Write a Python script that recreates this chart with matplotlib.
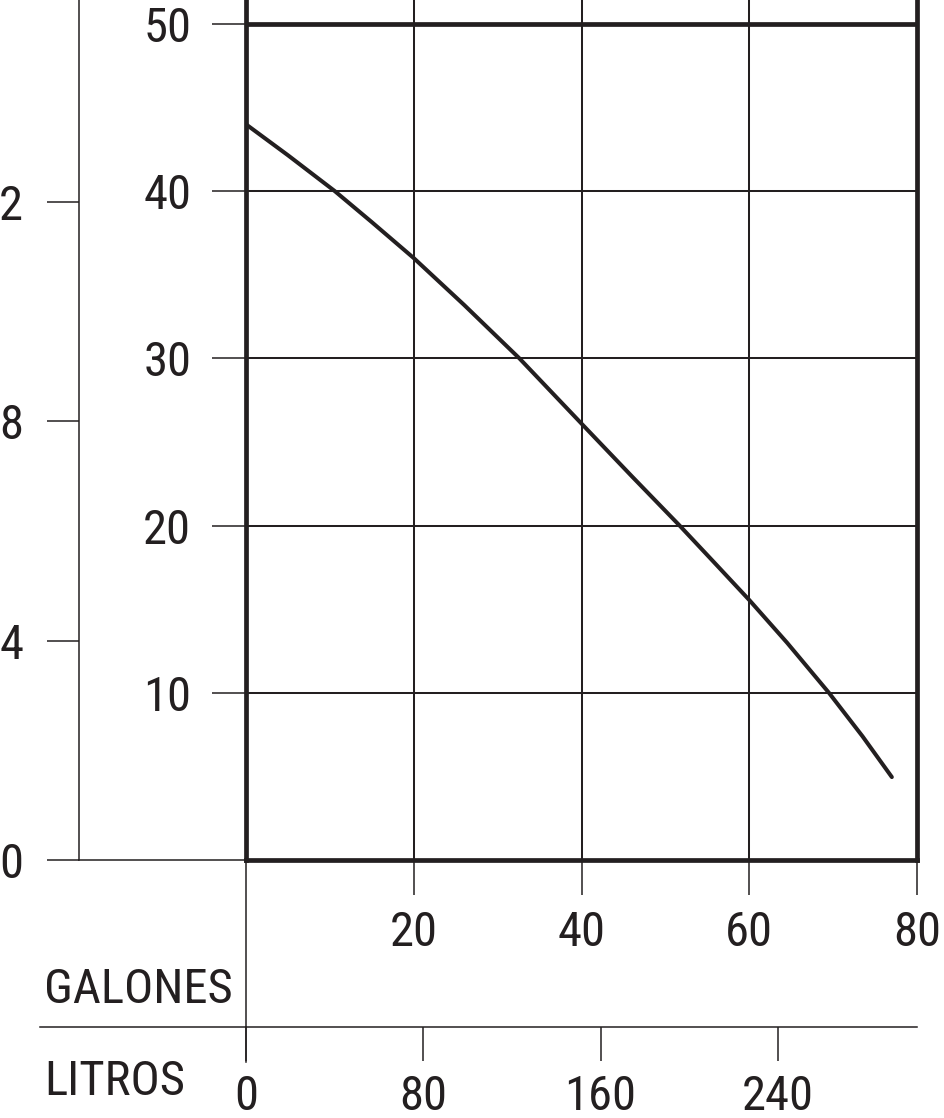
import numpy as np
import matplotlib.pyplot as plt

plt.rcParams['font.family'] = ['Roboto Condensed', 'Archivo Narrow', 'DejaVu Sans']

# pump curve: flow (gallons/min) vs head (feet)
gallons = [0, 5, 10.6, 15, 20, 26, 32.6, 40, 46, 51.7, 56, 60, 64.5, 69.5, 73.5, 77]
feet = [44.0, 42.15, 40.0, 38.15, 36.0, 33.2, 30.0, 26.1, 22.95, 20.0, 17.7, 15.55, 13.0, 10.0, 7.4, 4.96]

gal_ticks = [20, 40, 60, 80]
feet_ticks = [10, 20, 30, 40, 50]
meter_ticks = [0, 4, 8, 12]
litre_ticks = [0, 80, 160, 240]

ink = '#231f20'
W, H = 945, 1118
FS = 35

fig = plt.figure(figsize=(W / 100, H / 100), dpi=100)
ax = fig.add_axes([246 / W, 1 - 860 / H, 671 / W, 860 / H])
ax.set_xlim(0, 80)
ax.set_ylim(0, 860 / 16.72)

ax.plot(gallons, feet, color=ink, lw=2.9, solid_capstyle='round',
        solid_joinstyle='round', zorder=5)

ax.spines['top'].set_visible(False)
for s in ['left', 'right', 'bottom']:
    ax.spines[s].set_linewidth(3.4)
    ax.spines[s].set_color(ink)

ax.set_xticks(gal_ticks)
ax.set_yticks(feet_ticks)
ax.grid(True, color=ink, lw=1.45)
ax.axhline(50, color=ink, lw=3.4)
ax.tick_params(axis='x', direction='out', length=25, width=1.1, color=ink,
               labelsize=FS, pad=11, labelcolor=ink)
ax.tick_params(axis='y', direction='out', length=24.5, width=1.1, color=ink,
               labelsize=FS, pad=15, labelcolor=ink)

# meters axis on the far left
m_loc = (79 - 246) / 671
sec = ax.secondary_yaxis(m_loc, functions=(lambda f: f * 0.3048, lambda m: m / 0.3048))
sec.set_yticks(meter_ticks)
sec.spines['left'].set_linewidth(1.1)
sec.spines['left'].set_color(ink)
sec.tick_params(direction='out', length=23, width=1.1, color=ink,
                labelsize=FS, pad=17, labelcolor=ink)
ax.plot([m_loc, 0], [0, 0], transform=ax.transAxes, color=ink, lw=1.1, clip_on=False)

# litres axis below
l_loc = -(1027 - 860) / 860
secx = ax.secondary_xaxis(l_loc, functions=(lambda g: g * 3.78541, lambda l: l / 3.78541))
secx.set_xticks(litre_ticks)
secx.spines['bottom'].set_linewidth(1.1)
secx.spines['bottom'].set_color(ink)
secx.tick_params(direction='out', length=24.5, width=1.1, color=ink,
                 labelsize=FS, pad=9, labelcolor=ink)
ax.plot([(40 - 246) / 671, 0], [l_loc, l_loc], transform=ax.transAxes,
        color=ink, lw=1.1, clip_on=False)
ax.plot([0, 0], [0, -(1062 - 860) / 860], transform=ax.transAxes,
        color=ink, lw=1.1, clip_on=False)

fig.text(44 / W, 1 - 1003 / H, 'GALONES', ha='left', va='baseline', fontsize=FS, color=ink)
fig.text(44 / W, 1 - 1095 / H, 'LITROS', ha='left', va='baseline', fontsize=FS, color=ink)

fig.savefig('out.png', dpi=100)
